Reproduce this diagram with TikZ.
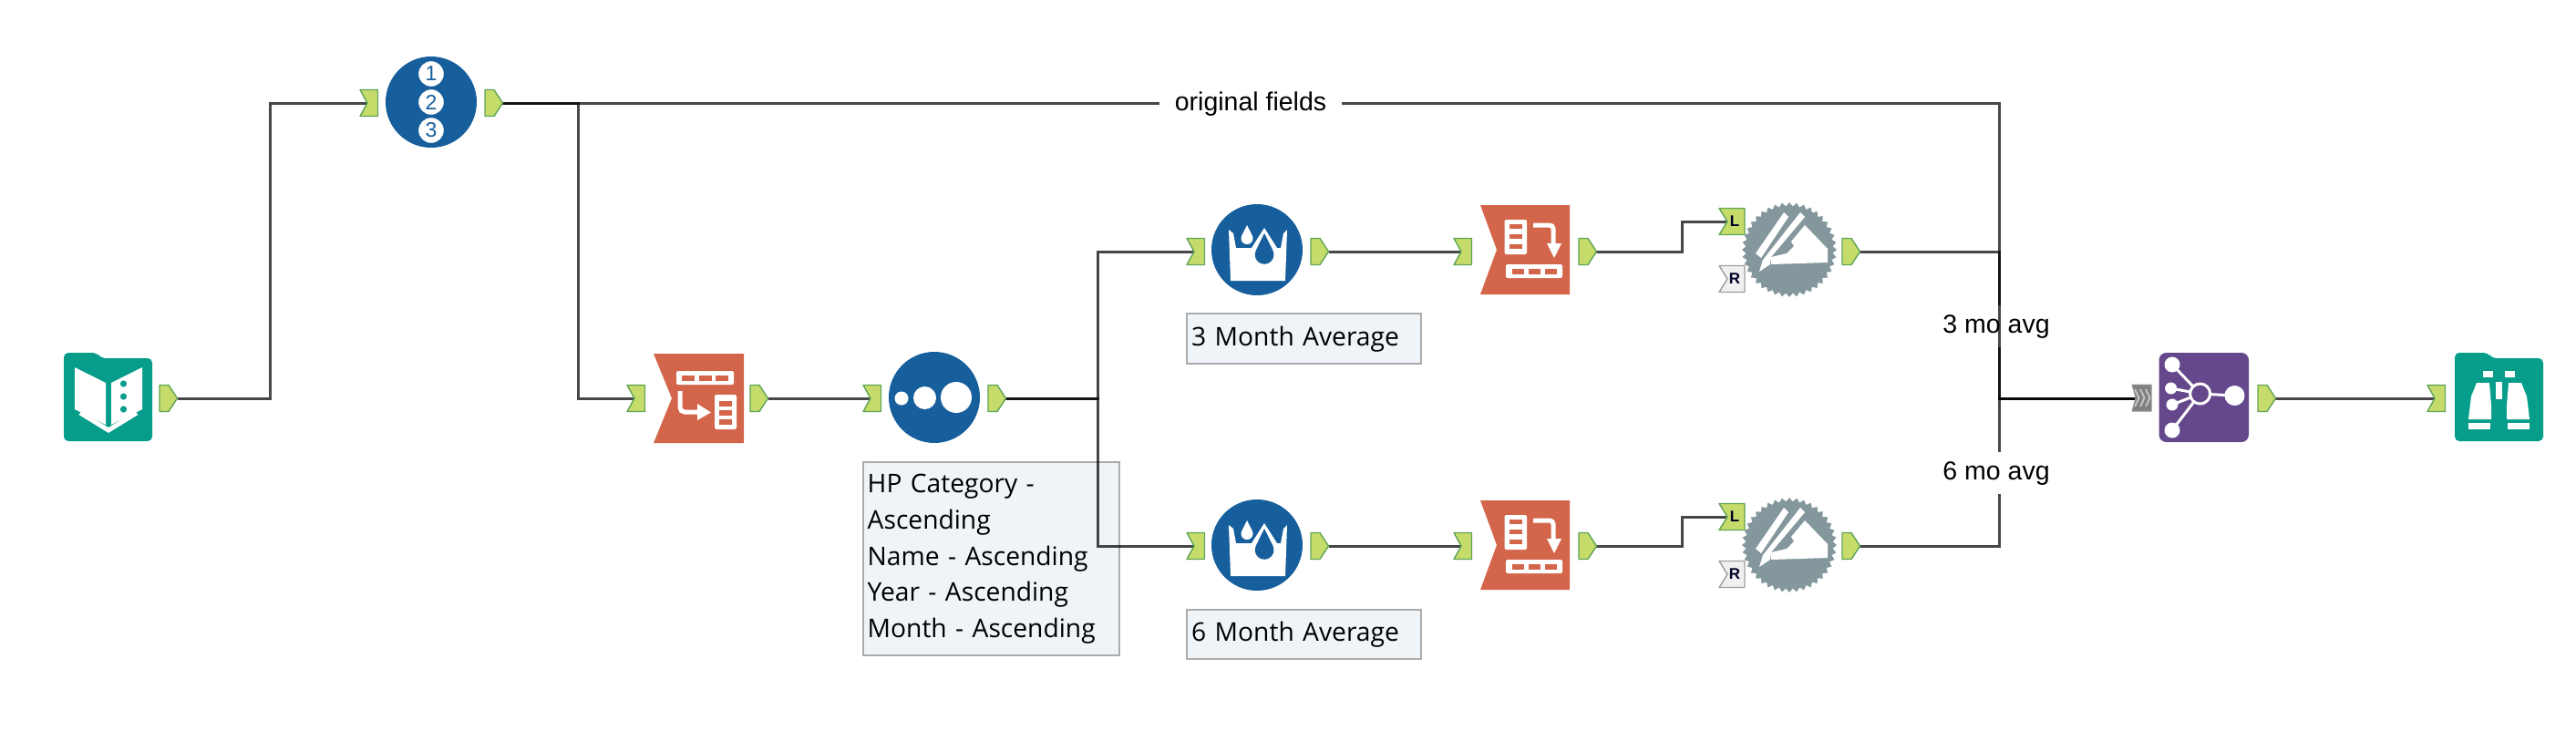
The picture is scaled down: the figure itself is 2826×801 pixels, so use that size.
\documentclass[tikz,border=0pt]{standalone}
\usepackage{fontspec}
\setmainfont{Liberation Sans}
\newfontfamily\notefont{Open Sans}
\usetikzlibrary{shapes.geometric,calc}
\definecolor{tealc}{HTML}{069E8A}
\definecolor{bluec}{HTML}{175F9C}
\definecolor{orangec}{HTML}{D3654A}
\definecolor{purplec}{HTML}{65478C}
\definecolor{gearc}{HTML}{84979D}
\definecolor{portfill}{HTML}{C5DC6B}
\definecolor{portline}{HTML}{5FA455}
\definecolor{notefill}{HTML}{EFF4F9}
\definecolor{noteline}{HTML}{ABABAB}
\tikzset{
  wire/.style={draw=black,draw opacity=.72,line width=3pt,line join=miter},
  portgreen/.style={fill=portfill,draw=portline,line width=1.4pt,line join=round},
  portgray/.style={fill=black!6,draw=black!38,line width=1.4pt,line join=round},
  roundtool/.style={circle,fill=bluec,minimum size=100pt,inner sep=0pt},
  notebox/.style={draw=noteline,fill=notefill,line width=2.4pt,inner xsep=5pt,inner ysep=0pt,align=left,anchor=north west,font=\notefont\fontsize{28.2}{39.6}\selectfont},
  wirelabel/.style={fill=white,inner sep=0pt,font=\fontsize{28.5}{32}\selectfont},
  dig/.style={circle,fill=white,draw=white,minimum size=27pt,inner sep=0pt,text=bluec,font=\fontsize{23}{23}\selectfont},
  portletter/.style={inner sep=0pt,font=\bfseries\fontsize{17}{17}\selectfont,text=black!85!blue},
}
\newcommand\portin[3]{\draw[portgreen,shift={(#2,#3)}] (0,-14.5)--(19.5,-14.5)--(19.5,14.5)--(0,14.5)--(8,0)--cycle; \coordinate (#1) at (#2+8,#3);}
\newcommand\portout[3]{\draw[portgreen,shift={(#2,#3)}] (0,-14.5)--(10,-14.5)--(19.5,0)--(10,14.5)--(0,14.5)--cycle; \coordinate (#1) at (#2+19.5,#3);}
\newcommand\elbow[3]{\coordinate (elb) at (#2,0); \draw[wire] (#1) -- (#1 -| elb) -- (#3 -| elb) -- (#3);}
\newcommand\straight[2]{\draw[wire] (#1) -- (#2);}
\newcommand\folderbody[1]{\fill[tealc,rounded corners=5pt,shift={(#1,387)}] (0,0) -- (37,0) -- (40,6) -- (97,6) -- (97,97) -- (0,97) -- cycle;}
\newcommand\transposeicon[3]{%
 \begin{scope}[shift={(#2,#3)}]
 \node[inner sep=0pt,minimum size=98pt] (#1) at (0,0) {};
 \fill[orangec] (-49,-49)--(49,-49)--(49,49)--(-49,49)--(-31,0)--cycle;
 \fill[white,rounded corners=2pt] (-22.5,-33) rectangle (2,5);
 \foreach \yy in {-26,-15,-4}{\fill[orangec] (-17,\yy-2.5) rectangle (-3,\yy+2.5);}
 \fill[white,rounded corners=2pt] (-21,16) rectangle (41,31);
 \foreach \xx in {-14,4,22}{\fill[orangec] (\xx,21) rectangle (\xx+13,27);}
 \draw[white,line width=5pt,rounded corners=4pt] (9,-27) -- (31,-27) -- (31,-6);
 \fill[white] (24,-7)--(40,-7)--(32,9)--cycle;
 \end{scope}}
\newcommand\formulaicon[3]{%
 \begin{scope}[shift={(#2,#3)}]
 \node[roundtool] (#1) at (0,0) {};
 \fill[white,line join=round] (-31,-22)--(-26,-18)--(-23,-2)--(-6,-2)--(8,-24)--(22,-2)--(26,-2)--(29,-18)--(33,-22)--(31,34)--(-29,34)--cycle;
 \fill[white] (-11,-27) -- (-5.1,-15.2) arc[start angle=-25,end angle=205,radius=6.5] -- cycle;
 \fill[bluec] (8,-18) -- (17.5,1) arc[start angle=-25,end angle=205,radius=10.4] -- cycle;
 \end{scope}}
\newcommand\joinicon[3]{%
 \begin{scope}[shift={(#2,#3)}]
 \node[star,star points=40,star point ratio=1.09,minimum size=104pt,inner sep=0pt,fill=gearc] (#1) at (0,0) {};
 \fill[white] (-6,-41)--(-1,-36)--(-31,9)--(-37,4)--cycle;
 \fill[white] (12,-41)--(17,-36)--(-20,8)--(-21,16)--(-33,24)--(-29,11)--cycle;
 \fill[white] (17,-27)--(42,-1)--(42,14)--(-20,16)--(-20,8)--(-3,4)--(5,-4)--(2,-9)--cycle;
 \end{scope}}
\newcommand\portL[3]{\draw[portgreen,shift={(#2,#3)}] (0,-14.5)--(28,-14.5)--(28,14.5)--(0,14.5)--(9,0)--cycle; \coordinate (#1) at (#2+9,#3); \node[portletter] (#1-t) at (#2+17,#3) {L};}
\newcommand\portR[3]{\draw[portgray,shift={(#2,#3)}] (0,-14.5)--(28,-14.5)--(28,14.5)--(0,14.5)--(9,0)--cycle; \coordinate (#1) at (#2+9,#3); \node[portletter] (#1-t) at (#2+17,#3) {R};}
\begin{document}
\begin{tikzpicture}[x=1pt,y=-1pt]
\useasboundingbox (0,0) rectangle (2826,801);
% port positions
\coordinate (inp-out) at (195,437);
\coordinate (rid-in) at (403,113);
\coordinate (rid-out) at (551,113);
\coordinate (xt-in) at (696,437);
\coordinate (xt-out) at (843,437);
\coordinate (sort-in) at (955,437);
\coordinate (sort-out) at (1103,437);
\coordinate (fa-in) at (1310,276);
\coordinate (fa-out) at (1458,276);
\coordinate (fb-in) at (1310,599);
\coordinate (fb-out) at (1458,599);
\coordinate (ca-in) at (1603,276);
\coordinate (ca-out) at (1751,276);
\coordinate (cb-in) at (1603,599);
\coordinate (cb-out) at (1751,599);
\coordinate (ja-l) at (1895,243);
\coordinate (jb-l) at (1895,567);
\coordinate (ja-out) at (2040,276);
\coordinate (jb-out) at (2040,599);
\coordinate (un-in) at (2350,437);
\coordinate (un-out) at (2496,437);
\coordinate (br-in) at (2671,437);
% notes
\node[notebox,minimum width=281.5pt,minimum height=212pt,text width=271.5pt] (note-sort) at (945.5,506) {HP Category -\\Ascending\\Name - Ascending\\Year - Ascending\\Month - Ascending};
\node[notebox,minimum width=257pt,minimum height=55pt,text width=247pt] (note-a) at (1301,343) {3 Month Average};
\node[notebox,minimum width=257pt,minimum height=54pt,text width=247pt] (note-b) at (1301,668) {6 Month Average};
% wires
\elbow{inp-out}{296.5}{rid-in}
\elbow{rid-out}{634.6}{xt-in}
\straight{xt-out}{sort-in}
\elbow{sort-out}{1204.5}{fa-in}
\elbow{sort-out}{1204.5}{fb-in}
\straight{fa-out}{ca-in}
\straight{fb-out}{cb-in}
\elbow{ca-out}{1845}{ja-l}
\elbow{cb-out}{1845}{jb-l}
\elbow{ja-out}{2193}{un-in}
\elbow{jb-out}{2193}{un-in}
\node[wirelabel,minimum height=46pt] (lab-a) at (2190,358) {3 mo avg};
\node[wirelabel,minimum height=46pt] (lab-b) at (2190,519) {6 mo avg};
\elbow{rid-out}{2193}{un-in}
\node[wirelabel,minimum width=200pt,minimum height=30pt] (lab-o) at (1372,114.5) {original fields};
\straight{un-out}{br-in}
% input tool
\folderbody{70}
\coordinate (inp) at (118.5,437);
\fill[white] (82,403)--(116,420)--(116,466)--(82,449)--cycle;
\fill[white] (156,403)--(122,420)--(122,466)--(156,449)--cycle;
\foreach \yy in {421,435,449}{\fill[tealc] (135.5,\yy) circle[radius=3.6];}
\draw[white,line width=5pt,line join=miter] (88,453)--(119,472)--(150,453);
\portout{inp-outp}{175}{437}
% record id
\portin{rid-inp}{395}{113}
\node[roundtool] (rid) at (473,112) {};
\node[dig] (d1) at (473,81) {1};
\node[dig] (d2) at (473,112) {2};
\node[dig] (d3) at (473,143) {3};
\portout{rid-outp}{532}{113}
% transpose
\portin{xt-inp}{688}{437}
\fill[orangec] (717,388)--(816,388)--(816,486)--(717,486)--(737,437)--cycle;
\coordinate (xt) at (766,437);
\fill[white,rounded corners=2pt] (742,407) rectangle (805,422);
\foreach \xx in {748,767,785}{\fill[orangec] (\xx,412) rectangle (\xx+13.5,418);}
\fill[white,rounded corners=2pt] (784,433) rectangle (808,471);
\foreach \yy in {440,450,460}{\fill[orangec] (789,\yy) rectangle (803,\yy+6);}
\draw[white,line width=5pt,rounded corners=5pt] (746,429) -- (746,452) -- (768,452);
\fill[white] (765,443)--(780,452.5)--(765,461)--cycle;
\portout{xt-outp}{823}{437}
% sort
\portin{sort-inp}{947}{437}
\node[roundtool] (sort) at (1025,436) {};
\fill[white] (989,437) circle[radius=7.5];
\fill[white] (1014.5,436.5) circle[radius=12.5];
\fill[white] (1049,436) circle[radius=17];
\portout{sort-outp}{1084}{437}
% formulas
\portin{fa-inp}{1302}{276}
\formulaicon{fa}{1379}{274}
\portout{fa-outp}{1438}{276}
\portin{fb-inp}{1302}{599}
\formulaicon{fb}{1379}{598}
\portout{fb-outp}{1438}{599}
% cross tabs
\portin{ca-inp}{1595}{276}
\transposeicon{ca}{1673}{274}
\portout{ca-outp}{1732}{276}
\portin{cb-inp}{1595}{599}
\transposeicon{cb}{1673}{598}
\portout{cb-outp}{1732}{599}
% joins
\portL{ja-lp}{1886}{243}
\portR{ja-rp}{1886}{306}
\joinicon{ja}{1963}{274}
\portout{ja-outp}{2021}{276}
\portL{jb-lp}{1886}{567}
\portR{jb-rp}{1886}{630}
\joinicon{jb}{1963}{598}
\portout{jb-outp}{2021}{599}
% union
\draw[fill=black!50,draw=black!42,line width=1pt,line join=round] (2339,422) -- (2360,422) -- (2360,451) -- (2339,451) -- (2343,436.5) -- cycle;
\foreach \xx in {2342,2348,2354}{\draw[white!78!black,line width=1.8pt] (\xx,427)--(\xx+4.5,436.5)--(\xx,446);}
\fill[purplec,rounded corners=8pt] (2368.5,387) rectangle (2467,485);
\coordinate (un) at (2418,436);
\draw[white,line width=3pt] (2413.6,432) -- (2383,400) (2413.6,432) -- (2381.6,426) (2413.6,432) -- (2383,444) (2413.6,432) -- (2383,472) (2413.6,432) -- (2451.5,434);
\fill[purplec] (2413.6,432) circle[radius=11];
\draw[white,line width=3pt] (2413.6,432) circle[radius=11];
\fill[white] (2383,400) circle[radius=8.5];
\fill[white] (2381.6,426) circle[radius=6.5];
\fill[white] (2383,444) circle[radius=6.5];
\fill[white] (2383,472) circle[radius=8.5];
\fill[white] (2451.5,434) circle[radius=11];
\portout{un-outp}{2477}{437}
% browse
\portin{br-inp}{2663}{437}
\folderbody{2693}
\coordinate (br) at (2741.5,437);
\fill[white] (2724,407) rectangle (2735,414);
\fill[white] (2748,407) rectangle (2759,414);
\fill[white] (2717,420)--(2731,420)--(2733,445)--(2733,460)--(2708,460)--(2711,435)--cycle;
\fill[white] (2766,420)--(2752,420)--(2750,445)--(2750,460)--(2775,460)--(2772,435)--cycle;
\fill[white] (2738,419) rectangle (2745,438);
\fill[white] (2708,464) rectangle (2732,471);
\fill[white] (2751,464) rectangle (2775,471);
\end{tikzpicture}
\end{document}
